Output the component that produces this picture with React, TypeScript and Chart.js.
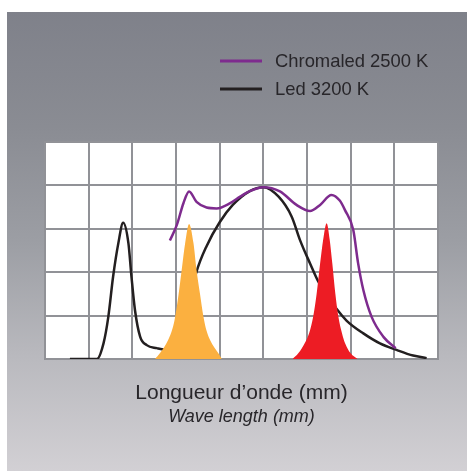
import React, { useEffect, useRef } from "react";
import { Chart, registerables } from "chart.js";

Chart.register(...registerables);

// ---- data (x in grid columns 0..9, y in grid rows 0..5) ----
const seriesLabels = ["Chromaled 2500 K", "Led 3200 K"];
const axisTitle = "Longueur d\u2019onde (mm)";
const axisSubtitle = "Wave length (mm)";

const chromaledX = [2.86, 3.02, 3.17, 3.3, 3.47, 3.7, 3.93, 4.24, 4.47, 4.69, 5.0, 5.38, 5.76, 6.07, 6.3, 6.56, 6.75, 6.87, 7.06, 7.17, 7.29, 7.48, 7.75, 8.03];
const chromaledY = [2.73, 3.09, 3.59, 3.86, 3.62, 3.49, 3.47, 3.59, 3.74, 3.87, 3.96, 3.86, 3.55, 3.41, 3.55, 3.78, 3.65, 3.43, 2.97, 2.21, 1.59, 0.97, 0.51, 0.25];

const ledX = [0.57, 1.19, 1.34, 1.45, 1.56, 1.68, 1.79, 1.91, 1.98, 2.06, 2.18, 2.33, 2.56, 2.79, 3.0, 3.2, 3.35, 3.47, 3.7, 4.0, 4.3, 4.69, 5.0, 5.35, 5.65, 5.84, 6.07, 6.26, 6.68, 6.91, 7.29, 7.67, 8.05, 8.43, 8.74];
const ledY = [0, 0, 0.36, 0.97, 1.9, 2.67, 3.14, 2.67, 1.9, 1.13, 0.51, 0.32, 0.25, 0.21, 0.35, 0.9, 1.5, 2.01, 2.6, 3.15, 3.55, 3.87, 3.96, 3.74, 3.28, 2.74, 2.2, 1.78, 1.15, 0.88, 0.59, 0.36, 0.21, 0.08, 0.02];

const amberX = [2.52, 2.63, 2.82, 2.92, 2.98, 3.06, 3.13, 3.21, 3.3, 3.4, 3.47, 3.55, 3.63, 3.7, 3.78, 3.97, 4.05];
const amberY = [0, 0.13, 0.44, 0.7, 0.97, 1.5, 2.05, 2.67, 3.11, 2.67, 2.05, 1.5, 0.97, 0.65, 0.44, 0.13, 0];

const redX = [5.67, 5.8, 5.95, 6.05, 6.14, 6.22, 6.3, 6.37, 6.45, 6.52, 6.58, 6.65, 6.72, 6.8, 6.87, 7.0, 7.16];
const redY = [0, 0.13, 0.37, 0.6, 0.97, 1.5, 2.2, 2.75, 3.13, 2.75, 2.2, 1.5, 0.97, 0.6, 0.37, 0.13, 0];

const xMin = 0;
const xMax = 9;
const yMin = 0;
const yMax = 5;

const FONT = "'Liberation Sans', Arial, Helvetica, sans-serif";
const TEXT = "#28262a";
const GRID = "#919297";

const pts = (xs: number[], ys: number[]) => xs.map((x, i) => ({ x, y: ys[i] }));

const plotBg = {
  id: "plotBg",
  beforeDraw(chart: any) {
    const { ctx, chartArea: a } = chart;
    ctx.save();
    ctx.fillStyle = "#ffffff";
    ctx.fillRect(a.left, a.top, a.right - a.left, a.bottom - a.top);
    ctx.restore();
  },
};

const customLegend = {
  id: "customLegend",
  afterDraw(chart: any) {
    const { ctx } = chart;
    const items = chart.data.datasets.filter((d: any) => d.showInLegend);
    ctx.save();
    items.forEach((d: any, i: number) => {
      const y = 61 + i * 28;
      ctx.strokeStyle = d.borderColor;
      ctx.lineWidth = 3;
      ctx.beginPath();
      ctx.moveTo(220, y);
      ctx.lineTo(262, y);
      ctx.stroke();
      ctx.fillStyle = TEXT;
      ctx.font = `18.4px ${FONT}`;
      ctx.textBaseline = "middle";
      ctx.textAlign = "left";
      ctx.fillText(d.label, 275, y + 1);
    });
    ctx.restore();
  },
};

export default function App() {
  const ref = useRef<HTMLCanvasElement | null>(null);

  useEffect(() => {
    document.body.style.margin = "0";
    if (!ref.current) return;
    const chart = new Chart(ref.current, {
      type: "line",
      data: {
        datasets: [
          {
            label: "amber",
            data: pts(amberX, amberY),
            borderWidth: 0,
            borderColor: "#fbb040",
            backgroundColor: "#fbb040",
            fill: "origin",
            pointRadius: 0,
            cubicInterpolationMode: "monotone",
            order: 0,
          },
          {
            label: "red",
            data: pts(redX, redY),
            borderWidth: 0,
            borderColor: "#ed1c24",
            backgroundColor: "#ed1c24",
            fill: "origin",
            pointRadius: 0,
            cubicInterpolationMode: "monotone",
            order: 0,
          },
          {
            label: seriesLabels[0],
            showInLegend: true,
            data: pts(chromaledX, chromaledY),
            borderWidth: 2.5,
            borderColor: "#7e2b8e",
            fill: false,
            pointRadius: 0,
            cubicInterpolationMode: "monotone",
            order: 1,
          },
          {
            label: seriesLabels[1],
            showInLegend: true,
            data: pts(ledX, ledY),
            borderWidth: 2.5,
            borderColor: "#231f20",
            fill: false,
            pointRadius: 0,
            cubicInterpolationMode: "monotone",
            order: 2,
          },
        ] as any,
      },
      options: {
        animation: false,
        responsive: false,
        maintainAspectRatio: false,
        layout: { padding: { left: 45, right: 31, top: 142, bottom: 42.8 } },
        scales: {
          x: {
            type: "linear",
            min: xMin,
            max: xMax,
            ticks: { display: false, stepSize: 1 },
            grid: { color: GRID, lineWidth: 2, drawTicks: false },
            border: { color: GRID, width: 2 },
            title: {
              display: true,
              text: axisTitle,
              color: TEXT,
              font: { family: FONT, size: 21, lineHeight: 1.2 },
              padding: { top: 21.4, bottom: 0 },
            },
          },
          y: {
            type: "linear",
            min: yMin,
            max: yMax,
            ticks: { display: false, stepSize: 1 },
            grid: { color: GRID, lineWidth: 2, drawTicks: false },
            border: { color: GRID, width: 2 },
          },
        },
        plugins: {
          legend: { display: false },
          title: { display: false },
          tooltip: { enabled: false },
          subtitle: {
            display: true,
            position: "bottom",
            text: axisSubtitle,
            color: TEXT,
            font: { family: FONT, size: 18, style: "italic", lineHeight: 1.2 },
            padding: { top: 1, bottom: 0 },
          },
        },
      } as any,
      plugins: [plotBg, customLegend],
    });
    return () => chart.destroy();
  }, []);

  return (
    <div style={{ position: "relative", width: 469, height: 471, background: "#ffffff", overflow: "hidden" }}>
      <div
        style={{
          position: "absolute",
          left: 7,
          top: 12,
          right: 2,
          bottom: 0,
          background:
            "linear-gradient(to bottom, #7f818a 0%, #8a8c93 25%, #9c9ea4 50%, #b9b9be 75%, #d2d0d4 100%)",
        }}
      />
      <canvas ref={ref} width={469} height={471} style={{ position: "absolute", left: 0, top: 0 }} />
    </div>
  );
}
